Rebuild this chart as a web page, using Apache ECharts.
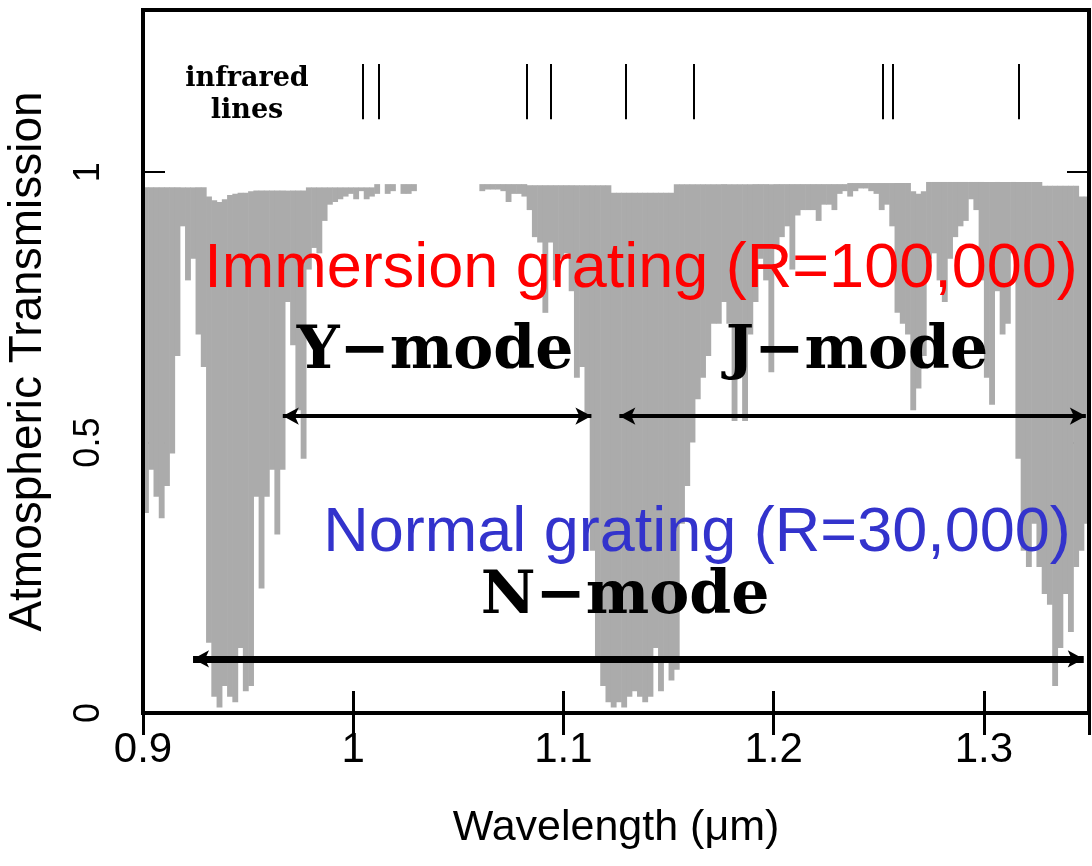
<!DOCTYPE html>
<html><head><meta charset="utf-8">
<script src="https://cdn.jsdelivr.net/npm/echarts@6/dist/echarts.min.js"></script>
<style>html,body{margin:0;padding:0;background:#fff}#c{width:1092px;height:866px}</style>
</head><body><div id="c"></div>
<script>
// sampling grid of the transmission spectrum (bin start + width, micron)
const binStart = 0.9;
const binWidth = 0.0025;
// upper edge of the gray band in each bin
const transHigh = [
0.972,0.972,0.972,0.972,0.972,0.972,0.972,0.972,0.972,0.972,0.972,0.972,
0.955,0.948,0.945,0.95,0.958,0.96,0.962,0.962,0.965,
0.966,0.966,0.966,0.966,0.966,0.966,0.966,0.966,0.966,0.966,
0.972,0.972,0.972,0.972,0.972,0.972,0.972,0.972,0.972,0.972,0.972,0.972,0.972,
0.978,0.978,0.978,0.978,0.978,0.978,0.978,0.978,0.978,0.978,0.978,0.978,0.978,0.978,0.978,0.978,0.978,0.978,0.978,0.978,0.978,0.978,0.978,0.978,0.978,0.978,0.978,0.978,0.978,
0.976,0.976,0.976,0.976,0.976,0.976,0.976,0.976,0.976,0.976,0.976,0.976,0.976,0.976,0.976,0.976,
0.962,0.962,0.962,0.962,0.962,0.962,0.962,0.962,0.962,0.962,0.962,0.962,
0.978,0.978,0.978,0.978,0.978,0.978,0.978,0.978,0.978,0.978,0.978,0.978,0.978,0.978,0.978,0.978,0.978,0.978,0.978,0.978,0.978,0.978,0.978,0.978,0.978,0.978,0.978,0.978,0.978,0.978,0.978,0.978,0.978,
0.98,0.98,0.98,0.98,0.98,0.98,0.98,0.98,0.98,0.98,0.98,0.98,
0.965,0.96,0.965,
0.982,0.982,0.982,0.982,0.982,0.982,0.982,0.982,0.982,0.982,0.982,0.982,0.982,0.982,0.982,0.982,0.982,0.982,0.982,0.982,0.982,0.982,
0.975,0.975,0.975,0.975,0.975,0.975,0.975,
0.955,0.955
];
// lower edge (deepest absorption) of the gray band in each bin
const transLow = [
0.37,0.45,0.40,0.36,0.42,0.48,0.66,0.90,0.80,0.84,0.70,0.64,
0.13,0.03,0.01,0.05,0.03,0.02,0.12,0.04,0.05,
0.40,0.23,0.40,0.45,0.33,0.45,0.76,0.68,0.56,0.47,
0.82,0.86,0.85,0.91,0.94,0.945,0.95,0.955,0.96,0.95,0.965,0.95,0.955,
0.96,0.978,0.96,0.965,0.978,0.96,0.96,0.965,
0.978,0.978,0.978,0.978,0.978,0.978,0.978,0.978,0.978,0.978,0.978,0.978,
0.965,0.968,0.968,0.968,0.965,0.945,0.96,0.96,0.955,
0.93,0.88,0.87,0.74,0.87,0.80,0.84,0.85,0.78,0.62,0.64,0.55,0.30,0.10,0.05,0.02,
0.01,0.02,0.01,0.03,0.04,0.03,0.02,0.03,0.12,0.04,0.10,0.06,
0.08,0.35,0.42,0.50,0.58,0.62,0.66,0.72,0.72,0.76,0.72,0.54,0.64,0.54,0.70,0.76,0.84,0.80,0.63,
0.86,0.88,0.90,0.82,0.92,0.93,0.93,0.93,0.91,0.94,0.94,0.93,0.96,0.965,
0.955,0.965,0.97,0.97,0.965,0.96,0.93,0.94,0.90,0.74,0.72,0.70,
0.56,0.60,0.66,
0.84,0.85,0.80,0.76,0.84,0.88,0.90,0.91,0.95,0.93,0.80,0.62,0.57,0.78,0.70,0.72,0.85,0.47,0.30,0.27,0.35,0.27,
0.22,0.20,0.05,0.12,0.22,0.15,0.27,
0.30,0.35
];
const xTickValues = [0.9, 1.0, 1.1, 1.2, 1.3];
const yTickValues = [0, 0.5, 1];
// infrared line markers
const infraredLines = [1.0045, 1.0121, 1.0824, 1.0938, 1.1295, 1.1622, 1.2520, 1.2568, 1.3166];
const infraredSpan = [1.098, 1.2];
// mode ranges (micron) and arrow heights
const yModeRange = [0.9665, 1.1133];
const jModeRange = [1.1266, 1.3485];
const nModeRange = [0.9238, 1.3475];
const yjArrowLevel = 0.549;
const nArrowLevel = 0.1;

const bins = transHigh.map((h, i) => [binStart + i * binWidth, binStart + (i + 1) * binWidth, transLow[i], h]);

const chart = echarts.init(document.getElementById('c'), null, {renderer: 'canvas'});
const sans = '"Liberation Sans", Arial, sans-serif';
const serif = '"DejaVu Serif", serif';

const irMarks = infraredLines.map(w => [{coord: [w, infraredSpan[0]]}, {coord: [w, infraredSpan[1]]}]);
const arrowMarks = [
  [{coord: [yModeRange[0], yjArrowLevel], lineStyle: {width: 4}}, {coord: [yModeRange[1], yjArrowLevel]}],
  [{coord: [jModeRange[0], yjArrowLevel], lineStyle: {width: 4}}, {coord: [jModeRange[1], yjArrowLevel]}],
  [{coord: [nModeRange[0], nArrowLevel], lineStyle: {width: 7}}, {coord: [nModeRange[1], nArrowLevel]}]
];

const fmt = v => v > 1.31 ? '' : String(+v.toFixed(2));
const fmtY = v => v > 1.01 ? '' : String(+v.toFixed(2));

function axisCommon(extra) {
  return Object.assign({
    type: 'value', z: 0,
    splitLine: {show: false},
    axisLine: {show: false},
    axisTick: {show: true, inside: true, length: 22, lineStyle: {color: '#000', width: 3}}
  }, extra);
}

chart.setOption({
  animation: false,
  backgroundColor: '#fff',
  grid: {left: 143, right: 3, top: 10, bottom: 153, show: true, z: 8, outerBoundsMode: 'none', containLabel: false,
    borderColor: '#000', borderWidth: 4, backgroundColor: 'transparent'},
  xAxis: [
    axisCommon({min: 0.9, max: 1.35, interval: 0.1, position: 'bottom',
      axisLabel: {show: true, fontSize: 42, color: '#000', margin: 16, fontFamily: sans, formatter: fmt},
      name: 'Wavelength (μm)', nameLocation: 'middle', nameGap: 94,
      nameTextStyle: {fontSize: 43, color: '#000', fontFamily: sans}}),
    axisCommon({min: 0.9, max: 1.35, interval: 0.1, position: 'top', axisLabel: {show: false}})
  ],
  yAxis: [
    axisCommon({min: 0, max: 1.3, interval: 0.5, position: 'left',
      axisTick: {show: true, inside: true, length: 22, lineStyle: {color: '#000', width: 2}},
      axisLabel: {show: true, rotate: 90, fontSize: 36, color: '#000', margin: 36, fontFamily: sans, formatter: fmtY},
      name: 'Atmospheric Transmission', nameLocation: 'middle', nameGap: 92,
      nameTextStyle: {fontSize: 46, color: '#000', fontFamily: sans}}),
    axisCommon({min: 0, max: 1.3, interval: 0.5, position: 'right',
      axisTick: {show: true, inside: true, length: 22, lineStyle: {color: '#000', width: 2}},
      axisLabel: {show: false}})
  ],
  series: [
    {
      type: 'custom', name: 'transmission', z: 2, clip: true,
      xAxisIndex: 0, yAxisIndex: 0,
      encode: {x: [0, 1], y: [2, 3]},
      data: bins,
      renderItem: function (params, api) {
        const x0 = api.value(0), x1 = api.value(1), lo = api.value(2), hi = api.value(3);
        if (!(hi > lo)) return null;
        const p0 = api.coord([x0, hi]);
        const p1 = api.coord([x1, lo]);
        return {type: 'rect', shape: {x: p0[0], y: p0[1], width: p1[0] - p0[0] + 0.6, height: p1[1] - p0[1]},
          style: {fill: '#ababab'}};
      }
    },
    {
      type: 'line', name: 'marks', data: [], xAxisIndex: 0, yAxisIndex: 0, silent: true,
      markLine: {
        silent: true, animation: false, z: 6,
        symbol: ['none', 'none'], label: {show: false}, emphasis: {disabled: true},
        lineStyle: {color: '#000', width: 2, type: 'solid'},
        data: irMarks
      }
    },
    {
      type: 'line', name: 'arrows', data: [], xAxisIndex: 0, yAxisIndex: 0, silent: true,
      markLine: {
        silent: true, animation: false, z: 6,
        symbol: ['arrow', 'arrow'], symbolSize: [13, 16], label: {show: false}, emphasis: {disabled: true},
        lineStyle: {color: '#000', type: 'solid', opacity: 1},
        itemStyle: {color: '#000'},
        data: arrowMarks
      }
    }
  ],
  graphic: [
    {type: 'text', x: 247, y: 79, z: 20, style: {text: 'infrared', fill: '#000', font: 'bold 27px ' + serif, textAlign: 'center', textVerticalAlign: 'middle'}},
    {type: 'text', x: 247, y: 111, z: 20, style: {text: 'lines', fill: '#000', font: 'bold 27px ' + serif, textAlign: 'center', textVerticalAlign: 'middle'}},
    {type: 'text', x: 641, y: 270, z: 20, style: {text: 'Immersion grating (R=100,000)', fill: '#ff0000', font: '63px ' + sans, textAlign: 'center', textVerticalAlign: 'middle'}},
    {type: 'text', x: 697, y: 534, z: 20, style: {text: 'Normal grating (R=30,000)', fill: '#3333cc', font: '63px ' + sans, textAlign: 'center', textVerticalAlign: 'middle'}},
    {type: 'text', x: 435, y: 352, z: 20, style: {text: 'Y\u2212mode', fill: '#000', font: 'bold 60px ' + serif, textAlign: 'center', textVerticalAlign: 'middle'}},
    {type: 'text', x: 857, y: 352, z: 20, style: {text: 'J\u2212mode', fill: '#000', font: 'bold 60px ' + serif, textAlign: 'center', textVerticalAlign: 'middle'}},
    {type: 'text', x: 625, y: 597, z: 20, style: {text: 'N\u2212mode', fill: '#000', font: 'bold 60px ' + serif, textAlign: 'center', textVerticalAlign: 'middle'}}
  ]
});
</script></body></html>
